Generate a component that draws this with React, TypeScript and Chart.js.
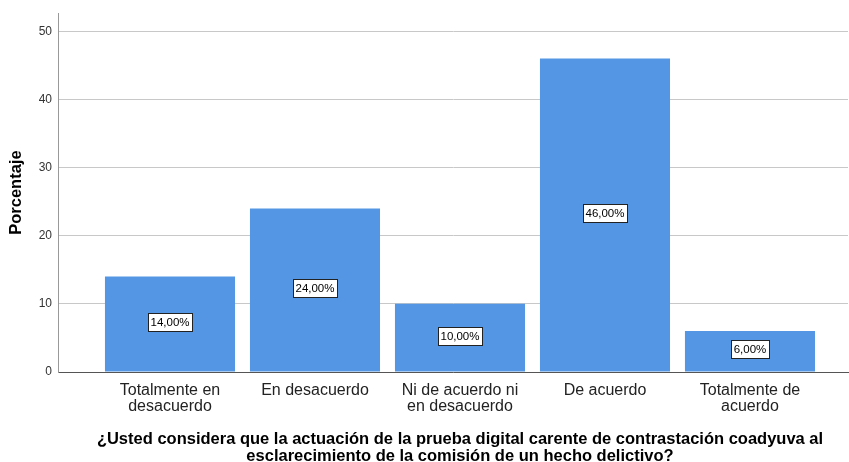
import { useEffect, useRef } from "react";
import { Chart, registerables } from "chart.js";

Chart.register(...registerables);

const categories: string[][] = [
  ["Totalmente en", "desacuerdo"],
  ["En desacuerdo"],
  ["Ni de acuerdo ni", "en desacuerdo"],
  ["De acuerdo"],
  ["Totalmente de", "acuerdo"],
];
const percentages = [14, 24, 10, 46, 6];
const valueLabels = ["14,00%", "24,00%", "10,00%", "46,00%", "6,00%"];
const yTickValues = [0, 10, 20, 30, 40, 50];
const yTitle = "Porcentaje";
const xTitle = [
  "¿Usted considera que la actuación de la prueba digital carente de contrastación coadyuva al",
  "esclarecimiento de la comisión de un hecho delictivo?",
];

const FONT = "'Liberation Sans', Arial, sans-serif";

export default function App() {
  const ref = useRef<HTMLCanvasElement | null>(null);

  useEffect(() => {
    document.body.style.margin = "0";
    const canvas = ref.current;
    if (!canvas) return;

    const labelPlugin = {
      id: "valueBoxes",
      afterDatasetsDraw(chart: any) {
        const ctx = chart.ctx;
        const meta = chart.getDatasetMeta(0);
        ctx.save();
        ctx.font = `11.5px ${FONT}`;
        ctx.textAlign = "center";
        ctx.textBaseline = "middle";
        meta.data.forEach((el: any, i: number) => {
          const txt = valueLabels[i];
          const cx = el.x;
          const cy = (el.y + el.base) / 2 - 2;
          const w = Math.round(ctx.measureText(txt).width + 5);
          const h = 18;
          const x0 = Math.round(cx - w / 2) + 0.5;
          const y0 = Math.round(cy - h / 2) + 0.5;
          ctx.fillStyle = "#ffffff";
          ctx.fillRect(x0, y0, w, h);
          ctx.strokeStyle = "#222222";
          ctx.lineWidth = 1;
          ctx.strokeRect(x0, y0, w, h);
          ctx.fillStyle = "#000000";
          ctx.fillText(txt, cx, y0 + h / 2 + 0.5);
        });
        ctx.restore();
      },
    };

    const xTitlePlugin = {
      id: "xTitle",
      afterDraw(chart: any) {
        const ctx = chart.ctx;
        const xs = chart.scales.x;
        const cx = (xs.getPixelForValue(1) + xs.getPixelForValue(5)) / 2;
        const base = chart.chartArea.bottom;
        ctx.save();
        ctx.font = `bold 16.5px ${FONT}`;
        ctx.fillStyle = "#000000";
        ctx.textAlign = "center";
        ctx.textBaseline = "middle";
        ctx.fillText(xTitle[0], cx, base + 67);
        ctx.fillText(xTitle[1], cx, base + 84);
        ctx.restore();
      },
    };

    const chart = new Chart(canvas, {
      type: "bar",
      data: {
        datasets: [
          {
            data: percentages.map((v, i) => ({ x: i + 1, y: v })),
            backgroundColor: "#5596e4",
            borderWidth: 0,
            barPercentage: 0.897,
            categoryPercentage: 1,
          },
        ],
      },
      options: {
        responsive: false,
        animation: false,
        layout: { padding: { left: 0, right: 1, top: 0, bottom: 0 } },
        plugins: {
          legend: { display: false },
          tooltip: { enabled: false },
        },
        scales: {
          x: {
            type: "linear",
            offset: false,
            min: 0.2276,
            max: 5.676,
            afterBuildTicks: (s: any) => {
              s.ticks = categories.map((_, i) => ({ value: i + 1 }));
            },
            afterFit: (s: any) => {
              s.height = 90;
            },
            grid: { display: false, drawTicks: false, offset: false },
            border: { display: true, color: "#555555", width: 1 },
            ticks: {
              padding: 11,
              maxRotation: 0,
              autoSkip: false,
              color: "#222222",
              font: { family: FONT, size: 16, lineHeight: 1.0 },
              callback: (v: any) => categories[Math.round(Number(v)) - 1] ?? "",
            },
          },
          y: {
            min: 0,
            max: 52.65,
            afterBuildTicks: (s: any) => {
              s.ticks = yTickValues.map((v) => ({ value: v }));
            },
            afterFit: (s: any) => {
              s.width = 58;
            },
            grid: { color: "#c8c8c8", drawTicks: false, lineWidth: 1 },
            border: { display: true, color: "#999999", width: 1 },
            ticks: {
              padding: 6,
              color: "#333333",
              font: { family: FONT, size: 12 },
            },
            title: {
              display: true,
              text: yTitle,
              color: "#000000",
              font: { family: FONT, size: 16.5, weight: "bold" },
              padding: { top: 7, bottom: 0 },
            },
          },
        },
      },
      plugins: [labelPlugin, xTitlePlugin],
    } as any);

    return () => chart.destroy();
  }, []);

  return (
    <div style={{ width: 849, height: 462 }}>
      <canvas ref={ref} width={849} height={462} style={{ display: "block" }} />
    </div>
  );
}
